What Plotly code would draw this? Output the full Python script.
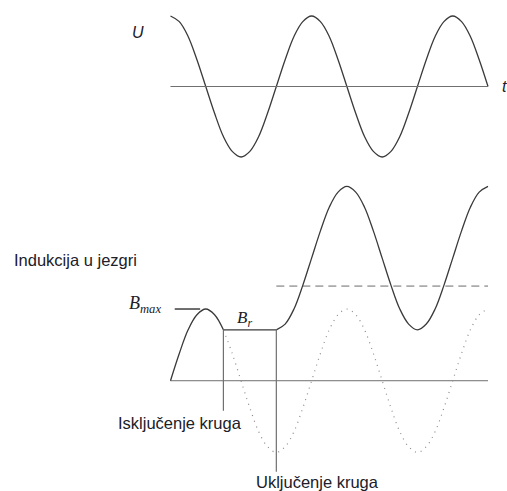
import plotly.graph_objects as go

# time in ms (50 Hz, period 20 ms), sampled every 1.25 ms
T_U = [i * 1.25 for i in range(37)]
U = [1, .92, .71, .38, 0, -.38, -.71, -.92, -1, -.92, -.71, -.38, 0, .38, .71, .92,
     1, .92, .71, .38, 0, -.38, -.71, -.92, -1, -.92, -.71, -.38, 0, .38, .71, .92,
     1, .92, .71, .38, 0]

T_AXIS = [0, 45]
ZERO = [0, 0]

# induction before switch-off
T_B_OFF = [0, 1.25, 2.5, 3.75, 5, 6.25, 7.5]
B_OFF = [0, .38, .71, .92, 1, .92, .71]

# remanence
T_BR = [7.5, 15]
B_R = [.71, .71]

# induction after switch-on
T_B_ON = [15 + i * 1.25 for i in range(25)]
B_ON = [.71, .79, 1.0, 1.33, 1.71, 2.09, 2.42, 2.63, 2.71, 2.63, 2.42, 2.09, 1.71,
        1.33, 1.0, .79, .71, .79, 1.0, 1.33, 1.71, 2.09, 2.42, 2.63, 2.71]

# steady-state induction (dotted)
T_B_SS = [7.5 + i * 1.25 for i in range(31)]
B_SS = [.71, .38, 0, -.38, -.71, -.92, -1, -.92, -.71, -.38, 0, .38, .71, .92, 1, .92,
        .71, .38, 0, -.38, -.71, -.92, -1, -.92, -.71, -.38, 0, .38, .71, .92, 1]

B_DASH = 1.32
T_DASH = [15, 45]

T_SWITCH_OFF = 7.5
T_SWITCH_ON = 15

CURVE = "#3a3a3a"
AXIS = "#707070"
TEXT = "#202028"

fig = go.Figure()

# ── Voltage ──────────────────────────────────────────────────────────────
fig.add_trace(go.Scatter(x=T_U, y=U, mode="lines", line=dict(color=CURVE, width=1.3, shape="spline"),
                         yaxis="y"))
fig.add_trace(go.Scatter(x=T_AXIS, y=ZERO, mode="lines", line=dict(color=AXIS, width=1), yaxis="y"))

# ── Induction ────────────────────────────────────────────────────────────
fig.add_trace(go.Scatter(x=T_AXIS, y=ZERO, mode="lines", line=dict(color=AXIS, width=1), yaxis="y2"))
fig.add_trace(go.Scatter(x=T_B_SS, y=B_SS, mode="lines",
                         line=dict(color="#8a8a8a", width=1.2, dash="1px,5px", shape="spline"), yaxis="y2"))
fig.add_trace(go.Scatter(x=T_DASH, y=[B_DASH] * 2, mode="lines",
                         line=dict(color="#6a6a6a", width=1, dash="8px,5px"), yaxis="y2"))
for tx, ty, shp in [(T_B_OFF, B_OFF, "spline"), (T_BR, B_R, "linear"), (T_B_ON, B_ON, "spline")]:
    fig.add_trace(go.Scatter(x=tx, y=ty, mode="lines", line=dict(color=CURVE, width=1.3, shape=shp),
                             yaxis="y2"))

# switching markers
fig.add_trace(go.Scatter(x=[T_SWITCH_OFF] * 2, y=[B_R[0], -0.42], mode="lines",
                         line=dict(color=AXIS, width=1.2), yaxis="y2"))
fig.add_trace(go.Scatter(x=[T_SWITCH_ON] * 2, y=[B_R[0], -1.27], mode="lines",
                         line=dict(color=AXIS, width=1.2), yaxis="y2"))
# Bmax leader
fig.add_trace(go.Scatter(x=[0.6, 4.2], y=[1, 1], mode="lines",
                         line=dict(color="#222222", width=1.3), yaxis="y2"))

sans = "Liberation Sans, Arial, sans-serif"
serif = "Liberation Serif, Times New Roman, serif"
annos = [
    dict(text="<i>U</i>", x=-4.6, y=0.76, yref="y", font=dict(family=sans, size=16)),
    dict(text="<i>t</i>", x=47.3, y=0, yref="y", font=dict(family=sans, size=16)),
    dict(text="Indukcija u jezgri", x=-22.5, y=1.68, yref="y2", xanchor="left",
         font=dict(family=sans, size=16.5)),
    dict(text="<i>B<sub>max</sub></i>", x=-1.0, y=1.06, yref="y2", xanchor="right",
         font=dict(family=serif, size=18)),
    dict(text="<i>B<sub>r</sub></i>", x=10.5, y=0.86, yref="y2", font=dict(family=serif, size=17)),
    dict(text="Isključenje kruga", x=1.35, y=-0.59, yref="y2", font=dict(family=sans, size=16.5)),
    dict(text="Uključenje kruga", x=20.8, y=-1.41, yref="y2", font=dict(family=sans, size=16.5)),
]
for a in annos:
    a.update(xref="x", showarrow=False)
    a["font"]["color"] = TEXT
    fig.add_annotation(**a)

fig.update_layout(
    width=507, height=491,
    margin=dict(l=0, r=0, t=0, b=0),
    paper_bgcolor="white", plot_bgcolor="white",
    showlegend=False,
    xaxis=dict(range=[-24.16, 47.69], visible=False),
    yaxis=dict(domain=[0.6538, 1], range=[-1.184, 1.227], visible=False),
    yaxis2=dict(domain=[0, 0.6538], range=[-1.538, 2.939], visible=False, anchor="x"),
)

fig.write_html("out.html", config={"displayModeBar": False},
               post_script="document.body.style.margin='0';")
